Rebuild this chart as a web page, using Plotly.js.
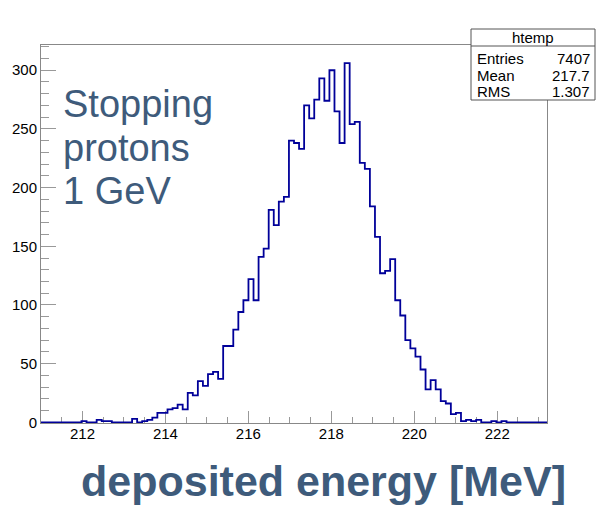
<!DOCTYPE html>
<html>
<head>
<meta charset="utf-8">
<script src="https://cdn.plot.ly/plotly-3.0.1.min.js"></script>
<style>html,body{margin:0;padding:0;background:#fff;}#chart{width:596px;height:505px;}</style>
</head>
<body>
<div id="chart"></div>
<script>
// Histogram binning (ROOT htemp, 100 bins)
const binLow = 211.0;
const binWidth = 0.122;
const counts = [
  0,0,0,0,0,0,0,0,1,0,
  0,2,1,1,0,0,0,0,3,0,
  1,2,4,8,8,11,12,15,11,25,
  23,35,31,41,43,37,65,65,79,94,
  104,122,104,141,148,181,168,188,192,240,
  238,233,270,259,275,293,274,300,265,238,
  306,254,256,221,216,184,158,127,129,139,
  104,91,70,63,56,45,28,36,28,18,
  16,7,8,1,2,1,2,0,0,1,
  0,1,0,0,0,0,0,0,0,0
];
const xTickVals = [212,214,216,218,220,222];
const yTickVals = [0,50,100,150,200,250,300];
const statsTitle = "htemp";
const statsLabels = ["Entries","Mean","RMS"];
const statsValues = ["7407","217.7","1.307"];
const noteLines = ["Stopping","protons","1 GeV"];
const xTitle = "deposited energy [MeV]";

const xs = [], ys = [];
for (let i = 0; i <= counts.length; i++) {
  xs.push(binLow + i * binWidth);
  ys.push(counts[Math.min(i, counts.length - 1)]);
}

const trace = {
  x: xs, y: ys, type: 'scatter', mode: 'lines',
  line: {shape: 'hv', color: '#000099', width: 1.8},
  hoverinfo: 'skip'
};

const W = 596, H = 505, L = 41, R = 49, T = 45, B = 82;
const pw = W - L - R, ph = H - T - B;
const px = (x) => (x - L) / pw;
const py = (y) => (H - B - y) / ph;

const textColor = '#3e5b7b';
const annotations = [];
const noteY = [104, 148, 191];
noteLines.forEach((t, i) => annotations.push({
  xref: 'paper', yref: 'paper', x: px(61), y: py(noteY[i]),
  xanchor: 'left', yanchor: 'middle', showarrow: false, text: t,
  font: {family: 'Liberation Sans, Arial, sans-serif', size: 38, color: textColor}
}));
annotations.push({
  xref: 'paper', yref: 'paper', x: px(323), y: py(481),
  xanchor: 'center', yanchor: 'middle', showarrow: false, text: '<b>' + xTitle + '</b>',
  font: {family: 'Liberation Sans, Arial, sans-serif', size: 43, color: textColor}
});
// stats box texts
annotations.push({
  xref: 'paper', yref: 'paper', x: px(533), y: py(37.5),
  xanchor: 'center', yanchor: 'middle', showarrow: false, text: statsTitle,
  font: {family: 'Liberation Sans, Arial, sans-serif', size: 15, color: '#000'}
});
const rowY = [58, 75, 92];
statsLabels.forEach((t, i) => {
  annotations.push({
    xref: 'paper', yref: 'paper', x: px(475), y: py(rowY[i]),
    xanchor: 'left', yanchor: 'middle', showarrow: false, text: t,
    font: {family: 'Liberation Sans, Arial, sans-serif', size: 15, color: '#000'}
  });
  annotations.push({
    xref: 'paper', yref: 'paper', x: px(592), y: py(rowY[i]),
    xanchor: 'right', yanchor: 'middle', showarrow: false, text: statsValues[i],
    font: {family: 'Liberation Sans, Arial, sans-serif', size: 15, color: '#000'}
  });
});

const shapes = [
  {type: 'rect', xref: 'paper', yref: 'paper', x0: px(471), x1: px(595), y0: py(100), y1: py(29),
   line: {color: '#555', width: 1}, fillcolor: '#fff', layer: 'above'},
  {type: 'line', xref: 'paper', yref: 'paper', x0: px(471), x1: px(595), y0: py(46), y1: py(46),
   line: {color: '#555', width: 1}, layer: 'above'}
];

const layout = {
  width: W, height: H,
  margin: {l: L, r: R, t: T, b: B, pad: 0},
  paper_bgcolor: '#fff', plot_bgcolor: '#fff',
  showlegend: false,
  font: {family: 'Liberation Sans, Arial, sans-serif', size: 15, color: '#000'},
  xaxis: {
    range: [binLow, binLow + binWidth * counts.length],
    tickvals: xTickVals, ticktext: xTickVals.map(String),
    ticks: 'inside', ticklen: 12, tickcolor: '#999', tickwidth: 1,
    minor: {dtick: 0.5, ticks: 'inside', ticklen: 6, tickcolor: '#999', showgrid: false},
    showgrid: false, zeroline: false,
    showline: true, linecolor: '#888', linewidth: 1, mirror: true,
    layer: 'below traces', ticklabelstandoff: -3,
    tickfont: {size: 15, color: '#000'}
  },
  yaxis: {
    range: [-0.6, 321.5],
    tickvals: yTickVals, ticktext: yTickVals.map(String),
    ticks: 'inside', ticklen: 15, tickcolor: '#999', tickwidth: 1,
    minor: {dtick: 10, ticks: 'inside', ticklen: 8, tickcolor: '#999', showgrid: false},
    showgrid: false, zeroline: false,
    showline: true, linecolor: '#888', linewidth: 1, mirror: true,
    layer: 'below traces',
    tickfont: {size: 15, color: '#000'}
  },
  annotations: annotations,
  shapes: shapes
};

Plotly.newPlot('chart', [trace], layout, {staticPlot: true, displayModeBar: false});
</script>
</body>
</html>
